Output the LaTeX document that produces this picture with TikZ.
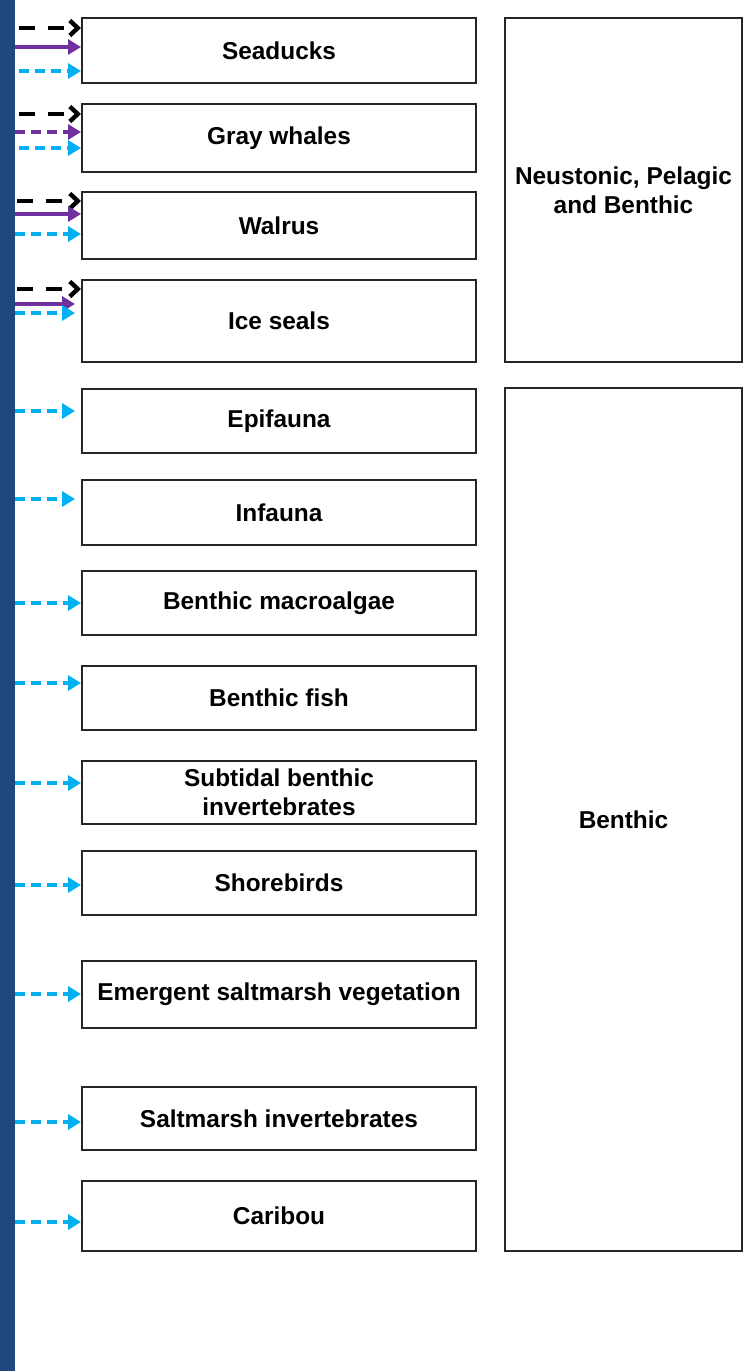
\documentclass[tikz,border=0pt]{standalone}
\usepackage{fontspec}
\setmainfont{Liberation Sans}
\usetikzlibrary{arrows.meta}

\definecolor{stripblue}{RGB}{31,73,125}
\definecolor{linkcyan}{RGB}{0,176,240}
\definecolor{linkpurple}{RGB}{112,48,160}

\tikzset{
  species/.style={draw=black!85, line width=1pt, minimum width=197pt, inner sep=0pt,
    align=center, font=\bfseries\fontsize{12.2}{14.5}\selectfont},
  habitat/.style={species, line width=1.3pt, minimum width=118.5pt},
  cyanlink/.style={linkcyan, line width=2.2pt, dash pattern=on 5pt off 3pt,
    -{Triangle[length=6.5pt,width=7.5pt]}},
  purplelink/.style={linkpurple, line width=2.2pt, -{Triangle[length=6.5pt,width=7.5pt]}},
  purpledash/.style={purplelink, dash pattern=on 5pt off 3pt},
  blacklink/.style={black, line width=2.2pt, dash pattern=on 8pt off 6.5pt,
    -{Straight Barb[length=4pt,width=7.5pt]}},
}

\begin{document}
\begin{tikzpicture}[x=0.5pt,y=0.5pt,yscale=-1,xscale=1]
\useasboundingbox (0,0) rectangle (751,1371);

%Shape: Rectangle [left strip]
\fill [stripblue] (0,0) rectangle (15,1371);

% Species boxes
\node [species, minimum height=32.5pt] (seaducks) at (279,50.5) {Seaducks};
\node [species, minimum height=34pt] (graywhales) at (279,138) {Gray whales};
\node [species, minimum height=33.5pt] (walrus) at (279,225.5) {Walrus};
\node [species, minimum height=41pt] (iceseals) at (279,321) {Ice seals};
\node [species, minimum height=32pt] (epifauna) at (279,421) {Epifauna};
\node [species, minimum height=32.5pt] (infauna) at (279,512.5) {Infauna};
\node [species, minimum height=32pt] (macroalgae) at (279,603) {Benthic macroalgae};
\node [species, minimum height=32pt] (benthicfish) at (279,698) {Benthic fish};
\node [species, minimum height=31.5pt] (subtidal) at (279,792.5) {Subtidal benthic\\invertebrates};
\node [species, minimum height=32pt] (shorebirds) at (279,883) {Shorebirds};
\node [species, minimum height=33.5pt] (saltveg) at (279,994.5) {Emergent saltmarsh vegetation};
\node [species, minimum height=31.5pt] (saltinv) at (279,1118.5) {Saltmarsh invertebrates};
\node [species, minimum height=35pt] (caribou) at (279,1216) {Caribou};

% Habitat boxes
\node [habitat, minimum height=172pt] (mixedhab) at (623.5,190) {Neustonic, Pelagic\\and Benthic};
\node [habitat, minimum height=431.5pt] (benthichab) at (623.5,819.5) {Benthic};

%Straight Lines [seaducks]
\coordinate (sdA) at (19,28);
\coordinate (sdB) at (15,47);
\coordinate (sdC) at (19,71);
\draw [blacklink] (sdA) -- (sdA -| seaducks.west);
\draw [purplelink] (sdB) -- (sdB -| seaducks.west);
\draw [cyanlink] (sdC) -- (sdC -| seaducks.west);
%Straight Lines [gray whales]
\coordinate (gwA) at (19,114);
\coordinate (gwB) at (15,132);
\coordinate (gwC) at (19,148);
\draw [blacklink] (gwA) -- (gwA -| graywhales.west);
\draw [purpledash] (gwB) -- (gwB -| graywhales.west);
\draw [cyanlink] (gwC) -- (gwC -| graywhales.west);
%Straight Lines [walrus]
\coordinate (wlA) at (17,201);
\coordinate (wlB) at (15,214);
\coordinate (wlC) at (15,234);
\draw [blacklink] (wlA) -- (wlA -| walrus.west);
\draw [purplelink] (wlB) -- (wlB -| walrus.west);
\draw [cyanlink] (wlC) -- (wlC -| walrus.west);
%Straight Lines [ice seals]
\coordinate (isA) at (17,289);
\coordinate (isB) at (15,304);
\coordinate (isC) at (15,313);
\draw [blacklink] (isA) -- (isA -| iceseals.west);
\draw [purplelink, shorten >=3pt] (isB) -- (isB -| iceseals.west);
\draw [cyanlink, shorten >=3pt] (isC) -- (isC -| iceseals.west);
%Straight Lines [benthic]
\coordinate (efA) at (15,411);
\coordinate (ifA) at (15,499);
\coordinate (maA) at (15,603);
\coordinate (bfA) at (15,683);
\coordinate (sbA) at (15,783);
\coordinate (shA) at (15,885);
\coordinate (svA) at (15,994);
\coordinate (siA) at (15,1122);
\coordinate (crA) at (15,1222);
\draw [cyanlink, shorten >=3pt] (efA) -- (efA -| epifauna.west);
\draw [cyanlink, shorten >=3pt] (ifA) -- (ifA -| infauna.west);
\draw [cyanlink] (maA) -- (maA -| macroalgae.west);
\draw [cyanlink] (bfA) -- (bfA -| benthicfish.west);
\draw [cyanlink] (sbA) -- (sbA -| subtidal.west);
\draw [cyanlink] (shA) -- (shA -| shorebirds.west);
\draw [cyanlink] (svA) -- (svA -| saltveg.west);
\draw [cyanlink] (siA) -- (siA -| saltinv.west);
\draw [cyanlink] (crA) -- (crA -| caribou.west);

\end{tikzpicture}
\end{document}
